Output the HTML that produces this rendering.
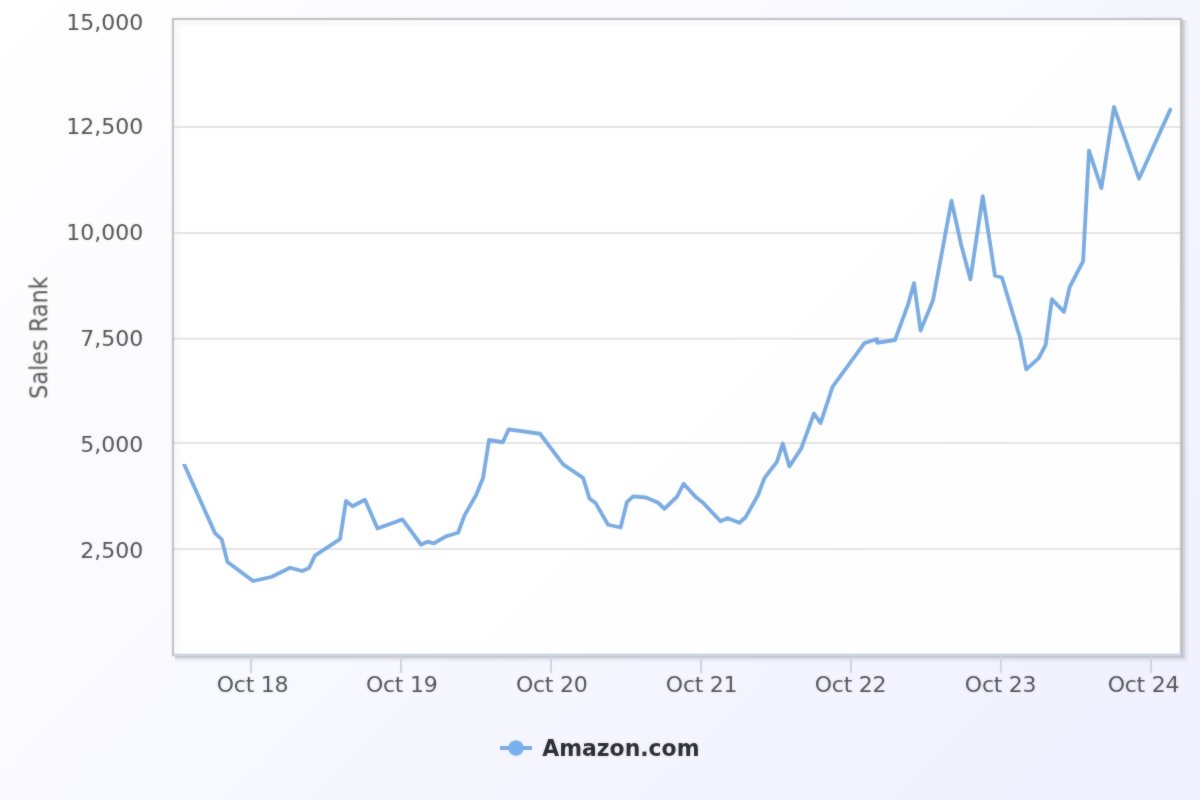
<!DOCTYPE html>
<html lang="en">
<head>
<meta charset="utf-8">
<title>Sales Rank</title>
<style>
html,body{margin:0;padding:0;width:1200px;height:800px;overflow:hidden;background:#f8f8ff;}
svg{display:block;}
text{font-family:"DejaVu Sans","Liberation Sans",sans-serif;}
.ax{font-size:22px;fill:#525256;}
.xl{letter-spacing:-0.25px;}
.yt{font-size:24px;fill:#58585c;}
.lg{font-size:23px;font-weight:bold;fill:#2a2a32;}
</style>
</head>
<body>
<svg width="1200" height="800" viewBox="0 0 1200 800">
<defs>
<linearGradient id="bg" gradientUnits="userSpaceOnUse" x1="0" y1="0" x2="1000" y2="1000">
<stop offset="0" stop-color="rgb(255,255,255)"/>
<stop offset="1" stop-color="rgb(240,240,255)"/>
</linearGradient>
<filter id="soft" x="0" y="0" width="1200" height="800" filterUnits="userSpaceOnUse" color-interpolation-filters="sRGB"><feGaussianBlur in="SourceGraphic" stdDeviation="0.8" result="b"/><feComposite in="SourceGraphic" in2="b" operator="arithmetic" k1="0" k2="0.65" k3="0.35" k4="0"/></filter>
<clipPath id="lc"><path d="M173 464 H200 V19 H1181 V655 H173 Z"/></clipPath>
</defs>
<rect x="0" y="0" width="1200" height="800" fill="url(#bg)"/>
<g filter="url(#soft)">
<path d="M175 659 H1185.5 V20" fill="none" stroke="#000" stroke-opacity="0.04" stroke-width="5"/>
<path d="M175 657.5 H1183.5 V20" fill="none" stroke="#000" stroke-opacity="0.094" stroke-width="3"/>
<path d="M175 656.5 H1182.5 V20" fill="none" stroke="#000" stroke-opacity="0.138" stroke-width="1"/>
<rect x="173" y="19" width="1008" height="636" fill="#fff" fill-opacity="0.9"/>
<path d="M1180 23.5 H177.5 V654" fill="none" stroke="#000" stroke-opacity="0.02" stroke-width="5"/>
<path d="M173 127 H1181" stroke="#e4e4e4" stroke-width="2" fill="none"/>
<path d="M173 233 H1181" stroke="#e4e4e4" stroke-width="2" fill="none"/>
<path d="M173 338.8 H1181" stroke="#e4e4e4" stroke-width="2" fill="none"/>
<path d="M173 443 H1181" stroke="#e4e4e4" stroke-width="2" fill="none"/>
<path d="M173 549 H1181" stroke="#e4e4e4" stroke-width="2" fill="none"/>
<rect x="173" y="19" width="1008" height="636" fill="none" stroke="#c1c1c4" stroke-width="2.2"/>
<path d="M174 655 H1181" stroke="#ccd4e2" stroke-width="2.5" fill="none"/>
<path d="M251 656 V673" stroke="#ccd4e2" stroke-width="2" fill="none"/>
<path d="M401 656 V673" stroke="#ccd4e2" stroke-width="2" fill="none"/>
<path d="M551 656 V673" stroke="#ccd4e2" stroke-width="2" fill="none"/>
<path d="M701 656 V673" stroke="#ccd4e2" stroke-width="2" fill="none"/>
<path d="M851 656 V673" stroke="#ccd4e2" stroke-width="2" fill="none"/>
<path d="M1001 656 V673" stroke="#ccd4e2" stroke-width="2" fill="none"/>
<path d="M1151 656 V673" stroke="#ccd4e2" stroke-width="2" fill="none"/>
<path d="M181.3 458 L215 533.1 L221.7 539.4 L227.5 562 L253.1 581 L271.25 577 L290 567.75 L302.25 571 L309 568.1 L314.9 555.6 L340 539.2 L346 501 L352.5 506.25 L365 499.75 L377.5 528.5 L402.4 519.4 L421.1 544.75 L427.5 541.7 L433.75 543.3 L446.25 536.25 L458.1 532.75 L464.4 515.6 L476.25 494.7 L483.1 477.8 L489 440 L502.75 442.25 L508.75 429.4 L540 433.75 L563.1 464.4 L583.1 477.8 L589.4 498.4 L595.6 503.1 L608.1 524.75 L620.6 527.5 L626.9 502.2 L633.1 496.4 L645.9 497.5 L657.8 502.5 L664.4 508.75 L676.9 496.9 L683.6 483.75 L695.6 496.9 L702.5 502.2 L720.6 521.25 L727.25 518.1 L739.4 522.75 L745.6 517.25 L758.1 495 L764.4 478.1 L776.9 461.9 L782.75 443.5 L789.4 466.5 L801.25 448.4 L814 413.5 L820.6 423.1 L832.5 386.9 L864.4 343.1 L876.9 339 L877.3 342.75 L895 340 L908.1 304.4 L914 283.1 L920.6 330.6 L933.1 300 L951.5 200.6 L961.2 245 L970.4 279.4 L982.75 196.25 L995 275.6 L1001.9 277.5 L1020 337.5 L1026.25 369.4 L1038.75 358.1 L1045.6 345 L1051.9 299.2 L1064 311.9 L1069.7 287 L1083.1 261.25 L1089 150.6 L1101.4 188.1 L1114 106.9 L1139 178.75 L1170.3 109.6" fill="none" stroke="#78aae0" stroke-width="3.8" stroke-linejoin="round" stroke-linecap="round" clip-path="url(#lc)"/>
<text class="ax" x="143.3" y="30" text-anchor="end">15,000</text>
<text class="ax" x="143.3" y="134" text-anchor="end">12,500</text>
<text class="ax" x="143.3" y="240" text-anchor="end">10,000</text>
<text class="ax" x="143.3" y="346" text-anchor="end">7,500</text>
<text class="ax" x="143.3" y="452" text-anchor="end">5,000</text>
<text class="ax" x="143.3" y="558" text-anchor="end">2,500</text>
<text class="ax xl" x="252.5" y="692" text-anchor="middle">Oct 18</text>
<text class="ax xl" x="401.7" y="692" text-anchor="middle">Oct 19</text>
<text class="ax xl" x="551.7" y="692" text-anchor="middle">Oct 20</text>
<text class="ax xl" x="701.6" y="692" text-anchor="middle">Oct 21</text>
<text class="ax xl" x="850.5" y="692" text-anchor="middle">Oct 22</text>
<text class="ax xl" x="1000.6" y="692" text-anchor="middle">Oct 23</text>
<text class="ax xl" x="1143.4" y="692" text-anchor="middle">Oct 24</text>
<text class="yt" x="0" y="0" text-anchor="middle" transform="translate(47.3 337.7) rotate(-90) scale(0.932 1)">Sales Rank</text>
<path d="M500 748 H532" stroke="#78aae0" stroke-width="4" fill="none"/>
<circle cx="516" cy="748" r="7.8" fill="#79b0ec"/>
<text class="lg" x="0" y="0" transform="translate(542.2 755.8) scale(0.954 1)">Amazon.com</text>
</g>
</svg>
</body>
</html>
